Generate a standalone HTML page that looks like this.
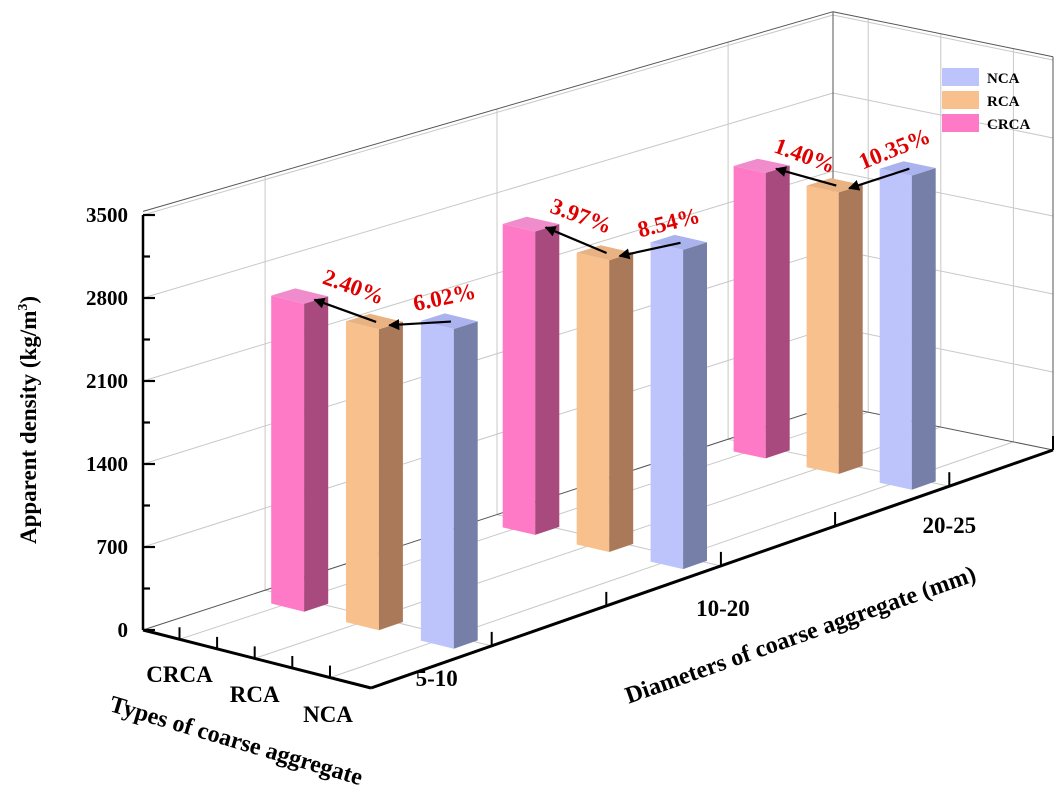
<!DOCTYPE html>
<html><head><meta charset="utf-8"><style>
html,body{margin:0;padding:0;background:#fff;}
svg{display:block;font-family:"Liberation Serif",serif;font-weight:bold;}
</style></head><body>
<svg id="chart" width="1063" height="806" viewBox="0 0 1063 806" xmlns="http://www.w3.org/2000/svg">
<defs><marker id="ah" viewBox="0 0 10 10" refX="9" refY="5" markerWidth="5" markerHeight="5" orient="auto"><path d="M0,0 L10,5 L0,10 z" fill="#000"/></marker></defs>
<g id="grid"></g><g id="bars"></g><g id="axes"></g><g id="ann"></g>
<g>
<rect x="942" y="68" width="37" height="18" fill="#bcc4fb"/>
<text x="987" y="83" font-size="15">NCA</text>
<rect x="942" y="91" width="37" height="18" fill="#f8c08c"/>
<text x="987" y="106" font-size="15">RCA</text>
<rect x="942" y="114" width="37" height="18" fill="#ff7ac6"/>
<text x="987" y="129" font-size="15">CRCA</text>
</g>
<text transform="translate(36,420) rotate(-90)" text-anchor="middle" font-size="23">Apparent density (kg/m<tspan font-size="14" dy="-9">3</tspan><tspan dy="9">)</tspan></text>
<text transform="translate(234,748) rotate(16.5)" text-anchor="middle" font-size="24">Types of coarse aggregate</text>
<text transform="translate(803,642) rotate(-19.5)" text-anchor="middle" font-size="24">Diameters of coarse aggregate (mm)</text>
</svg>
<script>
const types = ["CRCA","RCA","NCA"];
const diameters = ["5-10","10-20","20-25"];
const crcaValues = [2620,2636,2533];
const rcaValues = [2560,2535,2498];
const ncaValues = [2720,2772,2786];
const yTicks = [0,700,1400,2100,2800,3500];
const pctLabels = [["2.40%","6.02%"],["3.97%","8.54%"],["1.40%","10.35%"]];

const NS="http://www.w3.org/2000/svg";
const O=[143,630],TV=[228,58],DV=[690,-225],K=[-8,-13];
const ZMAX=3530;
function hs(d){return (415-25*d)/3500;}
function P(t,d,z){return [O[0]+t*TV[0]+d*DV[0]+t*d*K[0], O[1]+t*TV[1]+d*DV[1]+t*d*K[1]-z*hs(d)];}
const tc=[0.16,0.49,0.82], dc=[0.177,0.513,0.848];
function mk(tag,attrs,parent){const e=document.createElementNS(NS,tag);for(const k in attrs)e.setAttribute(k,attrs[k]);parent.appendChild(e);return e;}
function line(a,b,st,w,parent){return mk("line",{x1:a[0].toFixed(1),y1:a[1].toFixed(1),x2:b[0].toFixed(1),y2:b[1].toFixed(1),stroke:st,"stroke-width":w},parent);}
function poly(pts,fill,parent){return mk("polygon",{points:pts.map(p=>p[0].toFixed(1)+","+p[1].toFixed(1)).join(" "),fill:fill},parent);}
const grid=document.getElementById("grid"),bars=document.getElementById("bars"),axes=document.getElementById("axes"),ann=document.getElementById("ann");
const gc="#c8c8c8";
for(const z of yTicks.slice(1)){
  let l=line(P(0,0,z),P(0,1,z),gc,1,grid);
  
  
  l=line(P(0,1,z),P(1,1,z),gc,1,grid);
  
  
}
for(const d of dc){
  const l=line(P(0,d,0),P(0,d,ZMAX),gc,1,grid);
  
  
}
for(const t of tc){
  const l=line(P(t,1,0),P(t,1,ZMAX),gc,1,grid);
  
  
}
for(const t of tc){const l=line(P(t,0,0),P(t,1,0),gc,1,grid);}
for(const d of dc){const l=line(P(0,d,0),P(1,d,0),gc,1,grid);}
[[P(0,0,ZMAX),P(0,1,ZMAX)],[P(0,1,ZMAX),P(1,1,ZMAX)],[P(0,1,0),P(0,1,ZMAX)],[P(1,1,0),P(1,1,ZMAX)],[P(0,1,0),P(1,1,0)],[P(0,0,0),P(0,1,0)]].forEach(s=>{
  const l=line(s[0],s[1],"#555",1,grid);
  
  
});
const series=[crcaValues,rcaValues,ncaValues];
const cols=[["#ff7ac6","#a84a7e","#f08ccc"],["#f8c08c","#a9795a","#e8b282"],["#bcc4fb","#767fa8","#aab3ee"]];
const W=0.145,D=0.035;
const tops={};
for(let j=diameters.length-1;j>=0;j--){
  for(let i=0;i<types.length;i++){
    const v=series[i][j];
    const t0=tc[i]-0.042,d0=dc[j]-0.03,t1=t0+W,d1=d0+D;
    const g=mk("g",{},bars);
    
    
    poly([P(t0,d0,0),P(t1,d0,0),P(t1,d0,v),P(t0,d0,v)],cols[i][0],g);
    poly([P(t1,d0,0),P(t1,d1,0),P(t1,d1,v),P(t1,d0,v)],cols[i][1],g);
    poly([P(t0,d0,v),P(t1,d0,v),P(t1,d1,v),P(t0,d1,v)],cols[i][2],g);
    tops[i+"_"+j]={src:P(t0+0.55*W,d0+D/2,v),dst:P(t0+0.95*W,d0+D/2,v)};
  }
}
const lblOff=[[[ -5,-28, 20],[ 25,-17,-12]],[[ -8,-30, 20],[ 20,-13,-14]],[[ -14,-23, 20],[ 18,-13,-22]]];
for(let j=0;j<3;j++){
  const a1=mk("line",{x1:tops["1_"+j].src[0],y1:tops["1_"+j].src[1],x2:tops["0_"+j].dst[0],y2:tops["0_"+j].dst[1],stroke:"#000","stroke-width":2.2,"marker-end":"url(#ah)"},ann);
  
  
  const a2=mk("line",{x1:tops["2_"+j].src[0],y1:tops["2_"+j].src[1],x2:tops["1_"+j].dst[0],y2:tops["1_"+j].dst[1],stroke:"#000","stroke-width":2.2,"marker-end":"url(#ah)"},ann);
  
  
  for(let k=0;k<2;k++){
    const base=k===0?tops["1_"+j].src:tops["2_"+j].src;
    const o=lblOff[j][k];
    const x=base[0]+o[0]-(k===0?20:30),y=base[1]+o[1];
    const tx=mk("text",{transform:`translate(${x.toFixed(1)},${y.toFixed(1)}) rotate(${o[2]})`,"text-anchor":"middle","font-size":23,fill:"#e00000"},ann);
    
    
    tx.textContent=pctLabels[j][k];
  }
}
let ax=line(P(0,0,0),P(0,0,3500),"#000",2.5,axes);

for(let z=0;z<=3500;z+=350){
  const p=P(0,0,z),major=z%700===0;
  const tk=line(p,[p[0]+(major?12:7),p[1]],"#000",2.2,axes);
  
}
for(const z of yTicks){
  const p=P(0,0,z);
  const tx=mk("text",{x:128,y:(p[1]+7).toFixed(1),"text-anchor":"end","font-size":21},axes);
  
  tx.textContent=z;
}
ax=line(P(0,0,0),P(1,0,0),"#000",3,axes);

ax=line(P(1,0,0),P(1,1,0),"#000",3,axes);

const tAll=[tc[0],(tc[0]+tc[1])/2,tc[1],(tc[1]+tc[2])/2,tc[2]];
for(const t of tAll){const p=P(t,0,0);const tk=line(p,[p[0],p[1]-12],"#000",2,axes);}
const dAll=[dc[0],(dc[0]+dc[1])/2,dc[1],(dc[1]+dc[2])/2,dc[2],1];
for(const d of dAll){const p=P(1,d,0);const tk=line(p,[p[0],p[1]-14],"#000",2,axes);}
const tLblOff=[[0,52],[0,72],[-2,92]];
types.forEach((s,i)=>{
  const p=P(tc[i],0,0);
  const tx=mk("text",{x:(p[0]+tLblOff[i][0]).toFixed(1),y:(O[1]+tLblOff[i][1]).toFixed(1),"text-anchor":"middle","font-size":23},axes);
  
  tx.textContent=s;
});
const dLblOff=[[-55,40],[2,50],[0,47]];
diameters.forEach((s,i)=>{
  const p=P(1,dc[i],0);
  const tx=mk("text",{x:(p[0]+dLblOff[i][0]).toFixed(1),y:(p[1]+dLblOff[i][1]).toFixed(1),"text-anchor":"middle","font-size":23},axes);
  
  tx.textContent=s;
});
</script>
</body></html>
